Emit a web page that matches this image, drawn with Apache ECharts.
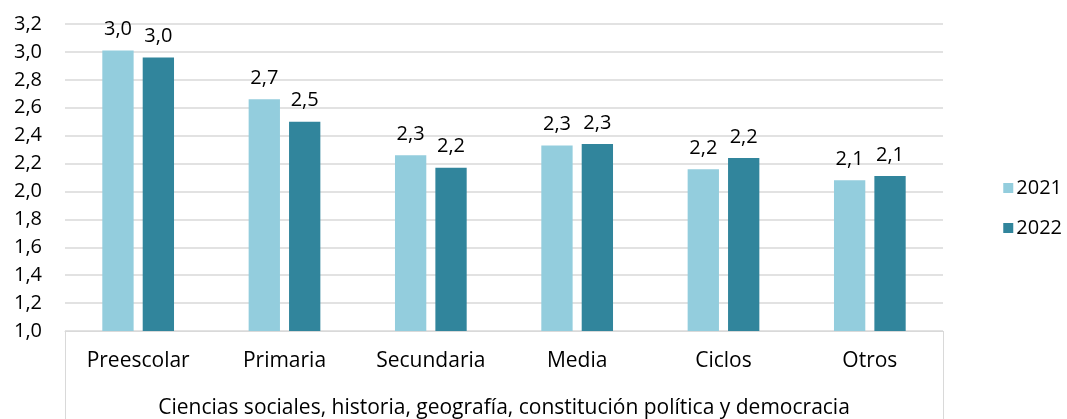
<!DOCTYPE html>
<html>
<head>
<meta charset="utf-8">
<script src="https://cdn.jsdelivr.net/npm/echarts@6/dist/echarts.min.js"></script>
<style>html,body{margin:0;padding:0;background:#fff;}#c{width:1067px;height:419px;}</style>
</head>
<body>
<div id="c"></div>
<script>
const categories = ['Preescolar', 'Primaria', 'Secundaria', 'Media', 'Ciclos', 'Otros'];
const groupLabel = ['Ciencias sociales, historia, geografía, constitución política y democracia'];
const values2021 = [3.01, 2.66, 2.26, 2.33, 2.16, 2.08];
const values2022 = [2.96, 2.50, 2.17, 2.34, 2.24, 2.11];
const seriesNames = ['2021', '2022'];

const FONT = 'Open Sans';
const FS = 20;
const FC = 21;
const fmt = v => v.toFixed(1).replace('.', ',');
const chart = echarts.init(document.getElementById('c'));
chart.setOption({
  animation: false,
  textStyle: { fontFamily: FONT },
  grid: { left: 65, right: 124, top: 24, bottom: 88 },
  legend: {
    orient: 'vertical', right: 0, top: 173,
    itemWidth: 10, itemHeight: 10, itemGap: 20,
    icon: 'rect',
    textStyle: { fontFamily: FONT, fontSize: FS, color: '#000', padding: [0, 0, 0, -2] },
    data: seriesNames
  },
  xAxis: [{
    type: 'category', data: categories,
    axisLine: { show: true, lineStyle: { color: '#d9d9d9', width: 1 } },
    axisTick: { show: false },
    axisLabel: { fontFamily: FONT, fontSize: FC, color: '#000', margin: 20 }
  }, {
    type: 'category', data: groupLabel, position: 'bottom',
    axisLine: { show: false },
    axisTick: { show: true, length: 100, lineStyle: { color: '#d9d9d9', width: 1 } },
    axisLabel: { fontFamily: FONT, fontSize: FC, color: '#000', margin: 67 }
  }],
  yAxis: {
    type: 'value', min: 1.0, max: 3.2, interval: 0.2,
    axisLine: { show: false }, axisTick: { show: false },
    splitLine: { lineStyle: { color: '#d9d9d9', width: 1.5 } },
    axisLabel: { fontFamily: FONT, fontSize: FS, color: '#000', margin: 23, formatter: v => fmt(v) }
  },
  series: [{
    name: seriesNames[0], type: 'bar', data: values2021, xAxisIndex: 0,
    barGap: '29%', barCategoryGap: '51%',
    itemStyle: { color: '#93CDDD' },
    label: { show: true, position: 'top', distance: 11, fontFamily: FONT, fontSize: FS, color: '#000', formatter: p => fmt(p.value) }
  }, {
    name: seriesNames[1], type: 'bar', data: values2022, xAxisIndex: 0,
    barGap: '29%', barCategoryGap: '51%',
    itemStyle: { color: '#31859C' },
    label: { show: true, position: 'top', distance: 11, fontFamily: FONT, fontSize: FS, color: '#000', formatter: p => fmt(p.value) }
  }]
});
</script>
</body>
</html>
